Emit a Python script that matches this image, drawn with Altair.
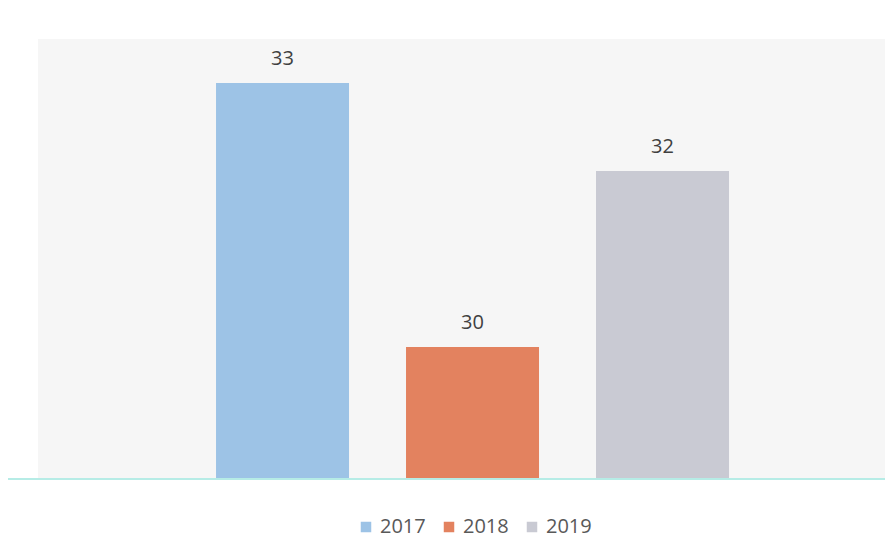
import altair as alt
import pandas as pd

years = ["2017", "2018", "2019"]
values = [33, 30, 32]
colors = ["#9dc3e6", "#e3825f", "#c9cad3"]
y_min, y_max = 28.5, 33.5

df = pd.DataFrame({"year": years, "value": values})

W, H = 847, 440
FONT = "Open Sans"

x = alt.X("year:N", sort=years, axis=None,
          scale=alt.Scale(paddingInner=0.3, paddingOuter=0.879, align=0.533))
y = alt.Y("value:Q", axis=None,
          scale=alt.Scale(domain=[y_min, y_max], zero=False, nice=False))

color = alt.Color(
    "year:N",
    scale=alt.Scale(domain=years, range=colors),
    legend=alt.Legend(
        orient="none", legendX=318, legendY=478, direction="horizontal",
        title=None, symbolType="square", symbolSize=110, symbolStrokeWidth=0,
        labelFontSize=20, labelFont=FONT, labelColor="#595959",
        columnPadding=13, labelOffset=4,
    ),
)

base = alt.Chart(df)

bars = base.mark_bar().encode(x=x, y=y, y2=alt.datum(y_min), color=color)

labels = base.mark_text(
    dy=-18, baseline="alphabetic", fontSize=20, font=FONT, color="#404040"
).encode(x=x, y=y, text=alt.Text("value:Q"))

baseline = base.mark_rule(color="#b6ece6", strokeWidth=2).encode(
    x=alt.value(-30), x2=alt.value(W), y=alt.datum(y_min)
)

chart = (
    alt.layer(bars, labels, baseline)
    .properties(
        width=W, height=H,
        padding={"left": 30, "top": 31, "right": 0, "bottom": 70},
        autosize=alt.AutoSizeParams(type="none"),
        background="white",
    )
    .configure_view(fill="#f6f6f6", stroke=None)
)

chart.save("out.html", embed_options={"renderer": "svg", "actions": False})
